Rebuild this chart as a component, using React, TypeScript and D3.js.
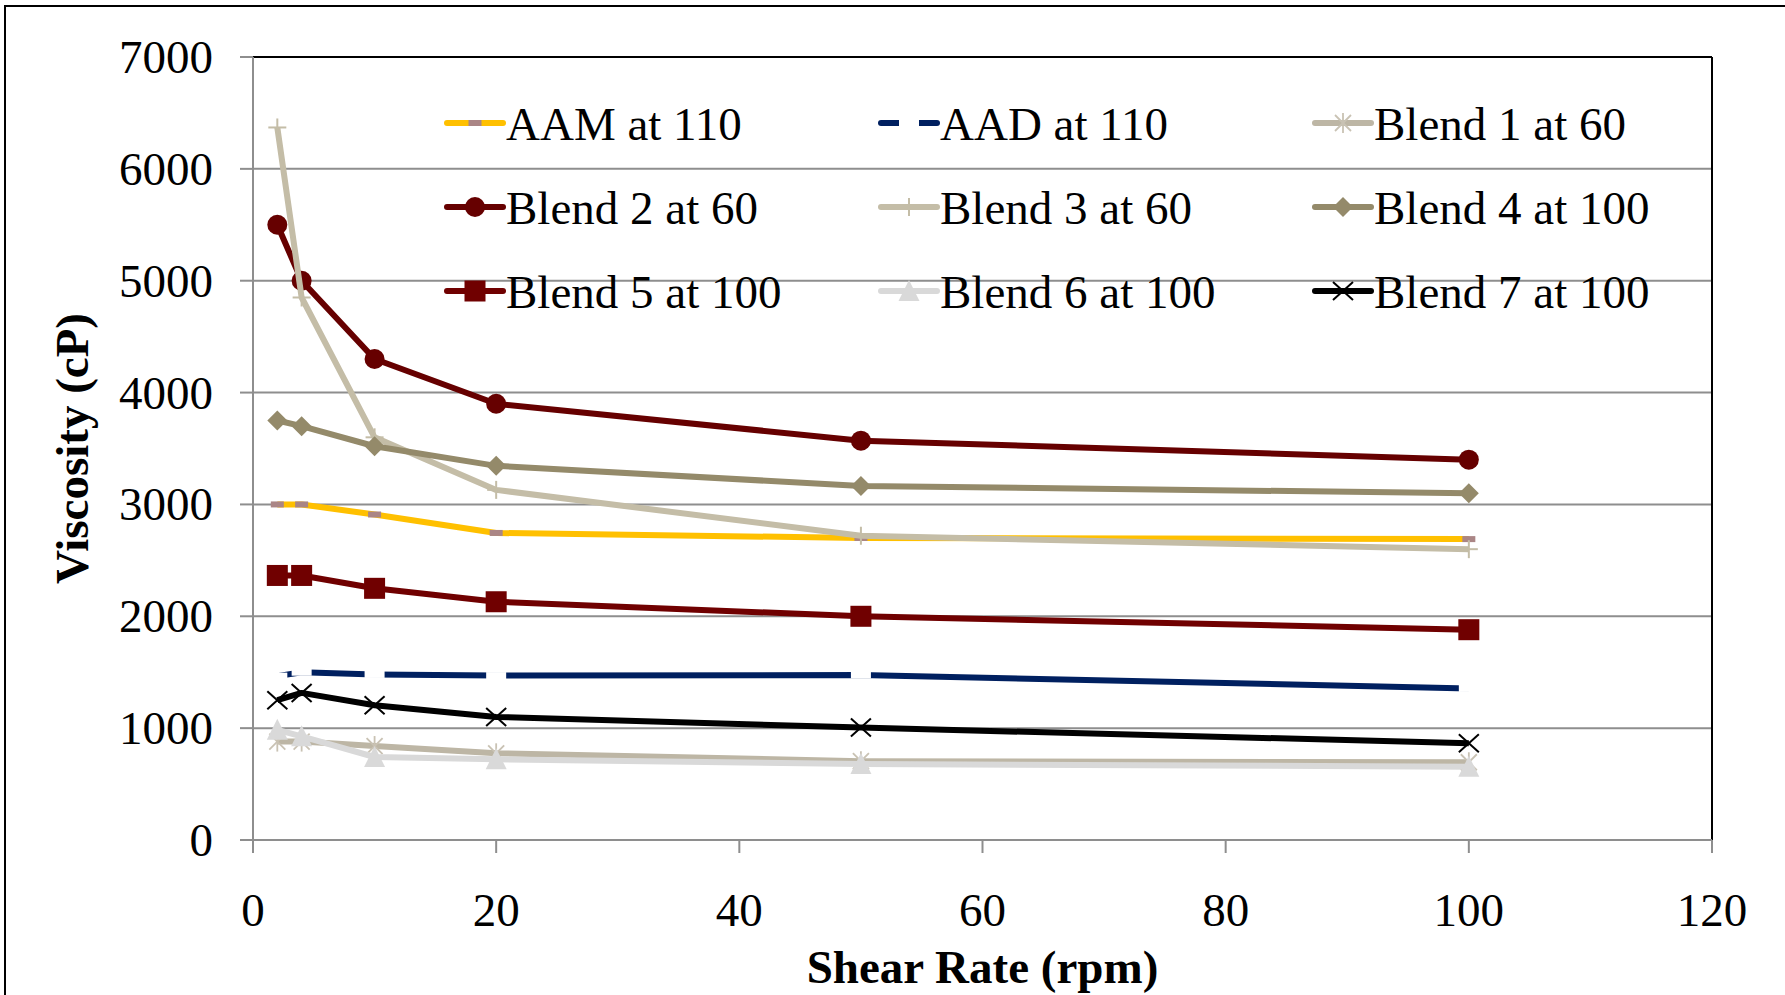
import React from "react";
import * as d3 from "d3";

const shearRate = [2, 4, 10, 20, 50, 100];
const aam110 = [3000, 3000, 2910, 2745, 2700, 2690];
const aad110 = [1465, 1500, 1480, 1470, 1475, 1355];
const blend1 = [880, 880, 840, 775, 705, 695];
const blend2 = [5500, 5000, 4300, 3900, 3570, 3400];
const blend3 = [6370, 4850, 3600, 3130, 2720, 2600];
const blend4 = [3750, 3700, 3520, 3345, 3165, 3100];
const blend5 = [2365, 2365, 2250, 2130, 2000, 1880];
const blend6 = [985, 927, 742, 722, 680, 655];
const blend7 = [1250, 1315, 1205, 1100, 1005, 865];

const seriesNames = [
  "AAM at 110", "AAD at 110", "Blend 1 at 60",
  "Blend 2 at 60", "Blend 3 at 60", "Blend 4 at 100",
  "Blend 5 at 100", "Blend 6 at 100", "Blend 7 at 100",
];
const seriesValues = [aam110, aad110, blend1, blend2, blend3, blend4, blend5, blend6, blend7];
const seriesColors = ["#FFC000", "#002060", "#BDB6A5", "#660000", "#C4BDA7", "#948A6A", "#700000", "#D9D9D9", "#000000"];
const markerTypes = ["dashM", "dashW", "star", "circle", "plus", "diamond", "square", "triangle", "x"];

const xTicks = [0, 20, 40, 60, 80, 100, 120];
const yTicks = [0, 1000, 2000, 3000, 4000, 5000, 6000, 7000];

const W = 1785, H = 995;
const L = 253, R = 1712, T = 57, B = 840;
const FONT = "'Liberation Serif', 'Times New Roman', serif";

function Marker({ type, x, y, color }: { type: string; x: number; y: number; color: string }) {
  switch (type) {
    case "dashM":
      return <rect x={x - 6.5} y={y - 3} width={13} height={6} fill="#AA8585" />;
    case "dashW":
      return <rect x={x - 10} y={y - 3.5} width={20} height={7} fill="#FFFFFF" />;
    case "star": {
      const s = 10, c = "#C9C2B3";
      return (
        <g stroke={c} strokeWidth={1.8}>
          <line x1={x} y1={y - s} x2={x} y2={y + s} />
          <line x1={x - s * 0.8} y1={y - s * 0.8} x2={x + s * 0.8} y2={y + s * 0.8} />
          <line x1={x - s * 0.8} y1={y + s * 0.8} x2={x + s * 0.8} y2={y - s * 0.8} />
        </g>
      );
    }
    case "circle":
      return <circle cx={x} cy={y} r={10} fill={color} />;
    case "plus":
      return (
        <g stroke={color} strokeWidth={2}>
          <line x1={x - 9} y1={y} x2={x + 9} y2={y} />
          <line x1={x} y1={y - 9} x2={x} y2={y + 9} />
        </g>
      );
    case "diamond":
      return <path d={`M${x},${y - 10}L${x + 10},${y}L${x},${y + 10}L${x - 10},${y}Z`} fill={color} />;
    case "square":
      return <rect x={x - 10.5} y={y - 10.5} width={21} height={21} fill={color} />;
    case "triangle":
      return <path d={`M${x},${y - 11}L${x + 10.5},${y + 10}L${x - 10.5},${y + 10}Z`} fill={color} />;
    case "x":
      return (
        <g stroke={color} strokeWidth={2}>
          <line x1={x - 10} y1={y - 9} x2={x + 10} y2={y + 9} />
          <line x1={x - 10} y1={y + 9} x2={x + 10} y2={y - 9} />
        </g>
      );
    default:
      return null;
  }
}

export default function App() {
  const xScale = d3.scaleLinear().domain([0, 120]).range([L, R]);
  const yScale = d3.scaleLinear().domain([0, 7000]).range([B, T]);
  const line = d3
    .line<[number, number]>()
    .x((d) => xScale(d[0]))
    .y((d) => yScale(d[1]));

  const legendCols = [447, 881, 1315];
  const legendRows = [123, 207, 291];

  return (
    <svg
      width={W}
      height={H}
      style={{ position: "absolute", left: 0, top: 0, background: "#fff" }}
      fontFamily={FONT}
    >
      <rect x={0} y={0} width={W} height={H} fill="#fff" />
      <rect x={5} y={6} width={W + 50} height={H + 50} fill="none" stroke="#000" strokeWidth={2} />

      {yTicks.map((t) => (
        <line key={"g" + t} x1={L} x2={R} y1={yScale(t)} y2={yScale(t)} stroke="#8E8E8E" strokeWidth={2} />
      ))}
      <line x1={L} x2={R} y1={T} y2={T} stroke="#000" strokeWidth={2} />
      <line x1={R} x2={R} y1={T} y2={B} stroke="#000" strokeWidth={2} />
      <line x1={L} x2={L} y1={T} y2={B + 13} stroke="#8E8E8E" strokeWidth={2} />
      <line x1={L - 13} x2={R} y1={B} y2={B} stroke="#8E8E8E" strokeWidth={2} />
      {yTicks.map((t) => (
        <line key={"yt" + t} x1={L - 13} x2={L} y1={yScale(t)} y2={yScale(t)} stroke="#8E8E8E" strokeWidth={2} />
      ))}
      {xTicks.map((t) => (
        <line key={"xt" + t} x1={xScale(t)} x2={xScale(t)} y1={B} y2={B + 13} stroke="#8E8E8E" strokeWidth={2} />
      ))}
      {yTicks.map((t) => (
        <text key={"yl" + t} x={213} y={yScale(t) + 16} fontSize={47} textAnchor="end" fill="#000">
          {t}
        </text>
      ))}
      {xTicks.map((t) => (
        <text key={"xl" + t} x={xScale(t)} y={926} fontSize={47} textAnchor="middle" fill="#000">
          {t}
        </text>
      ))}
      <text x={(L + R) / 2} y={983} fontSize={47} fontWeight="bold" textAnchor="middle" fill="#000">
        Shear Rate (rpm)
      </text>
      <text
        transform={`translate(88, ${(T + B) / 2}) rotate(-90)`}
        fontSize={47}
        fontWeight="bold"
        textAnchor="middle"
        fill="#000"
      >
        Viscosity (cP)
      </text>

      {seriesValues.map((vals, i) => {
        const pts = shearRate.map((x, j) => [x, vals[j]] as [number, number]);
        return (
          <g key={"s" + i}>
            <path d={line(pts) || ""} fill="none" stroke={seriesColors[i]} strokeWidth={6} strokeLinejoin="round" />
            {pts.map((p, j) => (
              <Marker key={j} type={markerTypes[i]} x={xScale(p[0])} y={yScale(p[1])} color={seriesColors[i]} />
            ))}
          </g>
        );
      })}

      {seriesNames.map((name, i) => {
        const col = i % 3;
        const row = Math.floor(i / 3);
        const x0 = legendCols[col];
        const y0 = legendRows[row];
        return (
          <g key={"lg" + i}>
            <line x1={x0} x2={x0 + 56} y1={y0} y2={y0} stroke={seriesColors[i]} strokeWidth={6} strokeLinecap="round" />
            <Marker type={markerTypes[i]} x={x0 + 28} y={y0} color={seriesColors[i]} />
            <text x={x0 + 59} y={y0 + 17} fontSize={47} fill="#000">
              {name}
            </text>
          </g>
        );
      })}
    </svg>
  );
}
